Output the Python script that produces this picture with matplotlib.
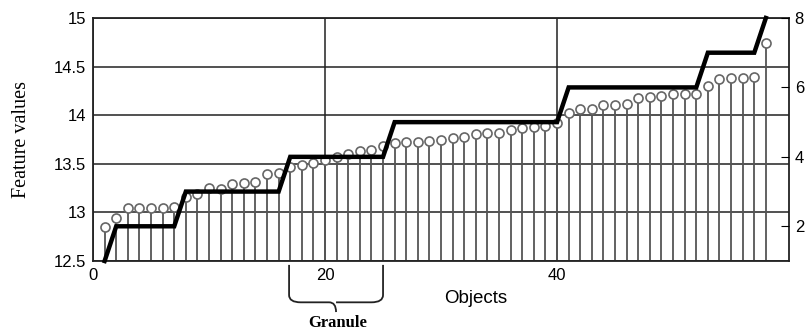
import matplotlib.pyplot as plt
import numpy as np
from matplotlib.path import Path
import matplotlib.patches as mpatches

# objects 1..58, sorted feature values
objects = np.arange(1, 59)
feature_values = [12.85, 12.94, 13.05, 13.05, 13.05, 13.05, 13.06, 13.16, 13.19, 13.25,
                  13.24, 13.29, 13.30, 13.31, 13.40, 13.41, 13.47, 13.49, 13.51, 13.54,
                  13.57, 13.60, 13.63, 13.64, 13.68, 13.71, 13.72, 13.72, 13.73, 13.74,
                  13.77, 13.78, 13.81, 13.82, 13.82, 13.85, 13.87, 13.88, 13.89, 13.92,
                  14.02, 14.06, 14.06, 14.10, 14.10, 14.11, 14.18, 14.19, 14.20, 14.22,
                  14.22, 14.22, 14.30, 14.37, 14.38, 14.38, 14.39, 14.74]

# granule index (right axis): break points of the step curve
step_x = [1, 2, 7, 8, 16, 17, 25, 26, 40, 41, 52, 53, 57, 58]
step_y = [1, 2, 2, 3, 3, 4, 4, 5, 5, 6, 6, 7, 7, 8]

x_ticks = [0, 20, 40]
left_ticks = [12.5, 13, 13.5, 14, 14.5, 15]
left_labels = ['12.5', '13', '13.5', '14', '14.5', '15']
right_ticks = [2, 4, 6, 8]

plt.rcParams['font.family'] = ['Liberation Sans', 'DejaVu Sans']

fig = plt.figure(figsize=(8.06, 3.33), dpi=100)
ax = fig.add_axes([0.1154, 0.2162, 0.8636, 0.7298])

ax.vlines(objects, 12.5, feature_values, colors='#555555', lw=1.3, zorder=2)
ax.plot(objects, feature_values, 'o', ms=6.5, mfc='white', mec='#666666', mew=1.2, zorder=3)

ax.set_xlim(0, 60)
ax.set_ylim(12.5, 15)
ax.set_xticks(x_ticks)
ax.set_yticks(left_ticks)
ax.set_yticklabels(left_labels)
ax.tick_params(axis='both', length=0, labelsize=12, colors='black', pad=5)
ax.grid(True, color='#222222', lw=1.1)
ax.set_axisbelow(True)
for s in ax.spines.values():
    s.set_color('#222222')
    s.set_linewidth(1.3)

ax.set_ylabel('Feature values', family=['Liberation Serif'], fontsize=14.5, labelpad=16)
ax.text(0.55, -0.155, 'Objects', transform=ax.transAxes, fontsize=13.5, ha='center', va='center')

# granule index on the right axis
ax2 = ax.twinx()
ax2.plot(step_x, step_y, color='black', lw=3.2, solid_joinstyle='miter', zorder=5, clip_on=False)
ax2.set_ylim(1, 8)
ax2.set_yticks(right_ticks)
ax2.tick_params(axis='y', direction='in', length=6, labelsize=12, pad=4, colors='black')
for s in ax2.spines.values():
    s.set_visible(False)

# brace under the granule 17..25
x0, x1 = 16.9, 25.0
xm = (x0 + x1) / 2
verts = [(x0, -0.016), (x0, -0.14), (x0, -0.17), (x0 + 1.0, -0.17),
         (xm - 0.6, -0.17), (xm, -0.17), (xm, -0.21),
         (xm, -0.17), (xm + 0.6, -0.17), (x1 - 1.0, -0.17),
         (x1, -0.17), (x1, -0.14), (x1, -0.016)]
codes = [Path.MOVETO, Path.LINETO, Path.CURVE3, Path.CURVE3,
         Path.LINETO, Path.CURVE3, Path.CURVE3,
         Path.MOVETO, Path.LINETO, Path.LINETO,
         Path.CURVE3, Path.CURVE3, Path.LINETO]
brace = mpatches.PathPatch(Path(verts, codes), fill=False, lw=1.3, ec='#222222',
                           transform=ax.get_xaxis_transform(), clip_on=False)
ax.add_patch(brace)
ax.text(xm + 0.1, -0.255, 'Granule', transform=ax.get_xaxis_transform(),
        family=['Liberation Serif'], fontweight='bold', fontsize=12, ha='center', va='center')

fig.savefig('out.png', dpi=100)
